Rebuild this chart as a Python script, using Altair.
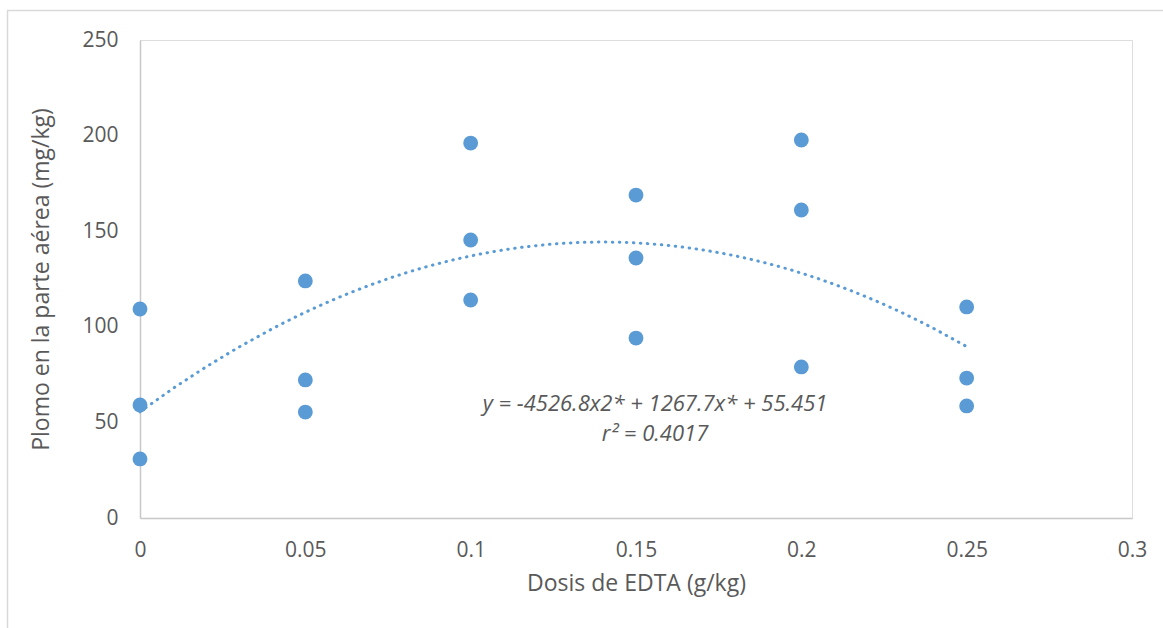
import altair as alt
import pandas as pd

# Data
dosis = [0, 0, 0,
         0.05, 0.05, 0.05,
         0.1, 0.1, 0.1,
         0.15, 0.15, 0.15,
         0.2, 0.2, 0.2,
         0.25, 0.25, 0.25]
plomo = [109.3, 59.1, 30.9,
         124.0, 72.2, 55.4,
         196.1, 145.4, 114.0,
         168.9, 136.0, 94.1,
         197.7, 161.1, 79.0,
         110.4, 73.2, 58.6]
x_ticks = [0, 0.05, 0.1, 0.15, 0.2, 0.25, 0.3]
y_ticks = [0, 50, 100, 150, 200, 250]
eq_lines = ["y = -4526.8x2* + 1267.7x* + 55.451", "r² = 0.4017"]

df = pd.DataFrame({"x": dosis, "y": plomo})

FONT = "Open Sans"
BLUE = "#5B9BD5"
GREY_TXT = "#595959"

W, H = 992, 478

xscale = alt.Scale(domain=[0, 0.3], nice=False, zero=False)
yscale = alt.Scale(domain=[0, 250], nice=False)

base = alt.Chart(df)

points = base.mark_circle(size=220, opacity=1, color=BLUE).encode(
    x=alt.X("x:Q", scale=xscale,
            axis=alt.Axis(values=x_ticks, format="~g", title="Dosis de EDTA (g/kg)",
                          grid=False, ticks=False, domainColor="#C8C8C8", domainWidth=1.5,
                          labelFont=FONT, labelFontSize=21, labelColor=GREY_TXT,
                          labelPadding=21, titleFont=FONT, titleFontSize=23,
                          titleFontWeight="normal", titleColor=GREY_TXT, titlePadding=12,
                          labelFlush=False)),
    y=alt.Y("y:Q", scale=yscale,
            axis=alt.Axis(values=y_ticks, title="Plomo en la parte aérea (mg/kg)",
                          grid=False, ticks=False, domainColor="#C8C8C8", domainWidth=1.5,
                          labelFont=FONT, labelFontSize=21, labelColor=GREY_TXT,
                          labelPadding=22, titleFont=FONT, titleFontSize=23,
                          titleFontWeight="normal", titleColor=GREY_TXT, titlePadding=28)),
)

trend = base.transform_regression("x", "y", method="poly", order=2).mark_line(
    color=BLUE, strokeWidth=3, strokeDash=[0.5, 6.5], strokeCap="round"
).encode(x=alt.X("x:Q", scale=xscale), y=alt.Y("y:Q", scale=yscale))

eq = alt.Chart(pd.DataFrame({"t": [eq_lines]})).mark_text(
    font=FONT, fontSize=22, fontStyle="italic", color=GREY_TXT,
    align="center", baseline="middle", lineHeight=30
).encode(text="t", x=alt.value(515), y=alt.value(364))

border_top = alt.Chart(pd.DataFrame({"a": [0]})).mark_rule(color="#D9D9D9", strokeWidth=1.5).encode(
    x=alt.value(-133), x2=alt.value(1100), y=alt.value(-29.5))
border_left = alt.Chart(pd.DataFrame({"a": [0]})).mark_rule(color="#D9D9D9", strokeWidth=1.5).encode(
    x=alt.value(-132.5), y=alt.value(-30), y2=alt.value(700))

chart = alt.layer(border_top, border_left, trend, points, eq).properties(
    width=W, height=H,
    padding={"left": 140, "top": 40, "right": 31, "bottom": 110},
    autosize=alt.AutoSizeParams(type="none"),
).configure_view(stroke=None).configure(background="white")

chart.save("out.html", embed_options={"renderer": "svg", "actions": False})
